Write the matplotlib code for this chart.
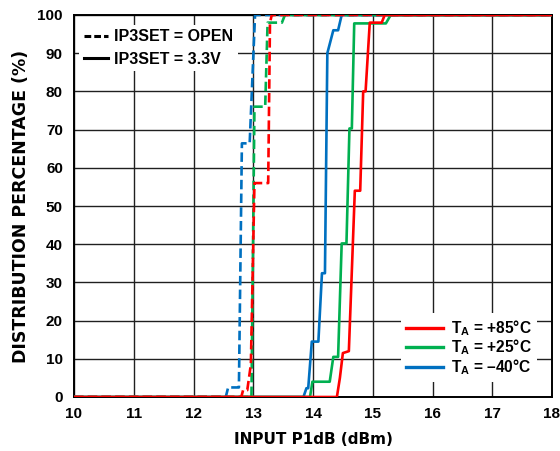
import matplotlib
matplotlib.use("Agg")
import matplotlib.pyplot as plt
from matplotlib.lines import Line2D

plt.rcParams['font.family'] = ['Liberation Sans', 'DejaVu Sans']
plt.rcParams['font.weight'] = 'bold'
plt.rcParams['mathtext.fontset'] = 'custom'
plt.rcParams['mathtext.bf'] = 'Liberation Sans:bold'
plt.rcParams['mathtext.rm'] = 'Liberation Sans:bold'

# ---- data ----
# IP3SET = 3.3V (solid)
x_85_33 = [10, 14.40, 14.45, 14.50, 14.60, 14.70, 14.79, 14.84, 14.88, 14.95, 15.15, 15.20, 18]
y_85_33 = [0, 0, 5, 11.5, 12, 54, 54, 80, 80, 98, 98, 100, 100]
x_25_33 = [10, 13.95, 13.99, 14.28, 14.34, 14.42, 14.48, 14.56, 14.61, 14.65, 14.69, 15.22, 15.30, 18]
y_25_33 = [0, 0, 4, 4, 10.5, 10.5, 40.2, 40.2, 70.3, 70.3, 97.8, 97.8, 100, 100]
x_m40_33 = [10, 13.84, 13.89, 13.92, 13.98, 14.09, 14.15, 14.20, 14.24, 14.34, 14.42, 14.48, 18]
y_m40_33 = [0, 0, 2.3, 2.3, 14.5, 14.5, 32.4, 32.4, 90, 96, 96, 100, 100]
# IP3SET = OPEN (dashed)
x_85_open = [10, 12.80, 12.83, 12.90, 12.96, 13.02, 13.25, 13.28, 13.31, 18]
y_85_open = [0, 0, 1.8, 1.8, 8.5, 56, 56, 98, 100, 100]
x_25_open = [10, 12.97, 13.02, 13.04, 13.20, 13.24, 13.48, 13.53, 18]
y_25_open = [0, 0, 76, 76, 76, 98, 98, 100, 100]
x_m40_open = [10, 12.54, 12.58, 12.76, 12.81, 12.94, 13.03, 18]
y_m40_open = [0, 0, 2.5, 2.5, 66.4, 66.4, 100, 100]

xticks = list(range(10, 19))
yticks = list(range(0, 101, 10))

RED = '#FF0000'
GREEN = '#00B050'
BLUE = '#0070C0'

fig = plt.figure(figsize=(5.6, 4.51), dpi=100)
ax = fig.add_axes([74 / 560, 1 - 397 / 451, 478 / 560, 382 / 451])

lw = 1.9
dash = (0, (3.6, 1.6))
ax.plot(x_m40_33, y_m40_33, color=BLUE, lw=lw, zorder=3)
ax.plot(x_25_33, y_25_33, color=GREEN, lw=lw, zorder=3.1)
ax.plot(x_m40_open, y_m40_open, color=BLUE, lw=lw, ls=dash, zorder=3.2)
ax.plot(x_25_open, y_25_open, color=GREEN, lw=lw, ls=dash, zorder=3.3)
ax.plot(x_85_open, y_85_open, color=RED, lw=lw, ls=dash, zorder=3.4)
ax.plot(x_85_33, y_85_33, color=RED, lw=lw, zorder=3.5)

ax.set_xlim(10, 18)
ax.set_ylim(0, 100)
ax.set_xticks(xticks)
ax.set_yticks(yticks)
ax.tick_params(axis='both', length=0, labelsize=11)
ax.tick_params(axis='y', pad=8)
ax.tick_params(axis='x', pad=7)
for lab in ax.get_xticklabels() + ax.get_yticklabels():
    lab.set_fontweight('bold')
ax.grid(True, color='#202020', lw=1.0)
ax.set_axisbelow(True)
for s in ax.spines.values():
    s.set_linewidth(1.4)
    s.set_color('black')

ax.set_xlabel('INPUT P1dB (dBm)', fontsize=11, fontweight='bold', labelpad=8,
              family='DejaVu Sans')
ax.set_ylabel('DISTRIBUTION PERCENTAGE (%)', fontsize=12.5, fontweight='bold',
              labelpad=5, family='DejaVu Sans')

h1 = [Line2D([], [], color='black', lw=2.2, ls=(0, (2.2, 1.0))),
      Line2D([], [], color='black', lw=2.2)]
leg1 = ax.legend(h1, ['IP3SET = OPEN', 'IP3SET = 3.3V'], loc='upper left',
                 bbox_to_anchor=(0.01, 0.975), frameon=True, fancybox=False,
                 edgecolor='none', facecolor='white', framealpha=1,
                 prop={'weight': 'bold', 'size': 11.5}, handlelength=1.5,
                 handletextpad=0.4, labelspacing=0.45, borderpad=0.3,
                 borderaxespad=0)
leg1.set_zorder(5)
ax.add_artist(leg1)

h2 = [Line2D([], [], color=RED, lw=2.4),
      Line2D([], [], color=GREEN, lw=2.4),
      Line2D([], [], color=BLUE, lw=2.4)]
labels2 = [r'$\mathbf{T_A}$ = +85°C', r'$\mathbf{T_A}$ = +25°C', r'$\mathbf{T_A}$ = –40°C']
leg2 = ax.legend(h2, labels2, loc='lower right', bbox_to_anchor=(0.968, 0.04),
                 frameon=True, fancybox=False, edgecolor='none', facecolor='white',
                 framealpha=1, prop={'weight': 'bold', 'size': 11.2},
                 handlelength=2.4, handletextpad=0.5, labelspacing=0.0,
                 borderpad=0.3, borderaxespad=0)
leg2.set_zorder(5)

fig.savefig('out.png', dpi=100)
